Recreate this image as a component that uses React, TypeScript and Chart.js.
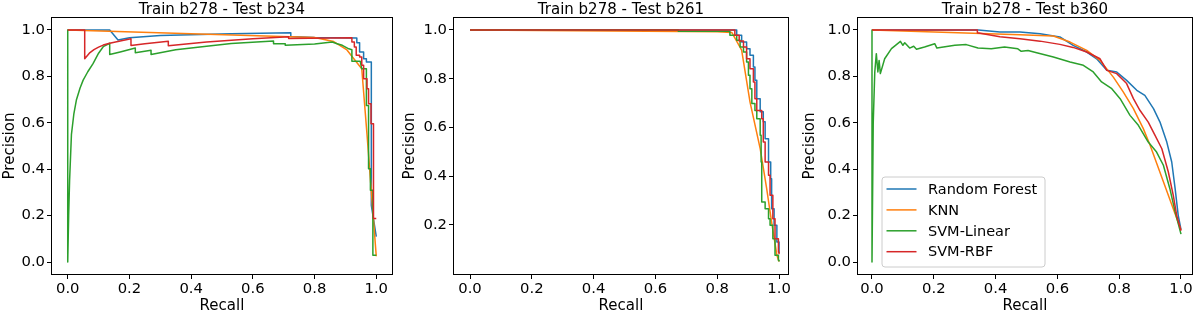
import React, { useEffect, useRef } from "react";
import { Chart, registerables } from "chart.js";

Chart.register(...registerables);

const FONT = "'DejaVu Sans', sans-serif";

const SERIES_NAMES = ["Random Forest", "KNN", "SVM-Linear", "SVM-RBF"];
const SERIES_COLORS = ["#1f77b4", "#ff7f0e", "#2ca02c", "#d62728"];
const TITLES = ["Train b278 - Test b234", "Train b278 - Test b261", "Train b278 - Test b360"];
const X_LABEL = "Recall";
const Y_LABEL = "Precision";
const X_TICKS = [0, 0.2, 0.4, 0.6, 0.8, 1.0];
const Y_TICKS_FULL = [0, 0.2, 0.4, 0.6, 0.8, 1.0];
const Y_TICKS_B261 = [0.2, 0.4, 0.6, 0.8, 1.0];

// ---------- Panel 1: Test b234 ----------
const b234RfRecall = [0, 0.136, 0.163, 0.2, 0.3, 0.53, 0.723, 0.723, 0.8, 0.937, 0.937, 0.946, 0.946, 0.959, 0.959, 0.968, 0.968, 0.984, 0.984, 1.0];
const b234RfPrecision = [1.0, 1.0, 0.957, 0.967, 0.976, 0.984, 0.988, 0.972, 0.968, 0.965, 0.945, 0.945, 0.905, 0.905, 0.876, 0.876, 0.862, 0.862, 0.244, 0.109];
const b234KnnRecall = [0, 0.8, 0.862, 0.905, 0.926, 0.953, 0.97, 1.0];
const b234KnnPrecision = [1.0, 0.968, 0.95, 0.914, 0.878, 0.833, 0.55, 0.025];
const b234LinRecall = [0, 0, 0.003, 0.006, 0.012, 0.02, 0.028, 0.04, 0.05, 0.065, 0.082, 0.1, 0.115, 0.136, 0.136, 0.17, 0.219, 0.219, 0.27, 0.27, 0.35, 0.45, 0.53, 0.667, 0.667, 0.705, 0.705, 0.8, 0.857, 0.873, 0.89, 0.911, 0.921, 0.921, 0.948, 0.953, 0.968, 0.968, 0.975, 0.975, 0.981, 0.981, 0.989, 0.989, 1.0];
const b234LinPrecision = [1.0, 0, 0.2, 0.35, 0.55, 0.64, 0.698, 0.75, 0.784, 0.82, 0.855, 0.9, 0.928, 0.943, 0.894, 0.905, 0.922, 0.902, 0.913, 0.894, 0.915, 0.93, 0.942, 0.953, 0.941, 0.941, 0.934, 0.94, 0.948, 0.941, 0.934, 0.919, 0.915, 0.865, 0.865, 0.833, 0.833, 0.675, 0.675, 0.402, 0.402, 0.309, 0.309, 0.029, 0.029];
const b234RbfRecall = [0, 0.055, 0.055, 0.07, 0.085, 0.1, 0.115, 0.136, 0.17, 0.205, 0.205, 0.25, 0.326, 0.326, 0.45, 0.6, 0.716, 0.716, 0.921, 0.921, 0.929, 0.929, 0.935, 0.935, 0.946, 0.946, 0.953, 0.953, 0.959, 0.959, 0.97, 0.97, 0.975, 0.975, 0.983, 0.983, 0.991, 0.991, 1.0];
const b234RbfPrecision = [1.0, 1.0, 0.876, 0.9, 0.915, 0.926, 0.935, 0.943, 0.953, 0.962, 0.933, 0.941, 0.952, 0.932, 0.948, 0.962, 0.971, 0.963, 0.967, 0.948, 0.948, 0.927, 0.927, 0.891, 0.891, 0.884, 0.884, 0.848, 0.848, 0.79, 0.79, 0.747, 0.747, 0.682, 0.682, 0.596, 0.596, 0.187, 0.187];

// ---------- Panel 2: Test b261 ----------
const b261RfRecall = [0, 0.847, 0.863, 0.879, 0.895, 0.906, 0.917, 0.922, 0.928, 0.939, 0.949, 0.955, 0.966, 0.973, 0.976, 0.984, 0.993, 1.0];
const b261RfPrecision = [1.0, 1.0, 0.978, 0.951, 0.923, 0.896, 0.848, 0.794, 0.718, 0.664, 0.623, 0.554, 0.458, 0.39, 0.267, 0.199, 0.13, 0.085];
const b261KnnRecall = [0, 0.8, 0.847, 0.879, 0.906, 0.939, 0.96, 0.976, 0.993, 1.0];
const b261KnnPrecision = [1.0, 0.993, 0.99, 0.917, 0.705, 0.513, 0.349, 0.212, 0.076, 0.05];
const b261LinRecall = [0, 0.674, 0.809, 0.841, 0.863, 0.874, 0.885, 0.895, 0.901, 0.906, 0.912, 0.922, 0.928, 0.939, 0.942, 0.944, 0.955, 0.966, 0.971, 0.98, 0.987, 0.998, 1.0];
const b261LinPrecision = [1.0, 0.995, 0.995, 0.978, 0.958, 0.93, 0.91, 0.869, 0.814, 0.759, 0.698, 0.67, 0.636, 0.568, 0.458, 0.294, 0.267, 0.226, 0.199, 0.144, 0.076, 0.055, 0.05];
const b261RbfRecall = [0, 0.836, 0.857, 0.871, 0.885, 0.895, 0.906, 0.917, 0.922, 0.928, 0.944, 0.949, 0.955, 0.966, 0.971, 0.98, 0.987, 0.998, 1.0];
const b261RbfPrecision = [1.0, 1.0, 0.978, 0.955, 0.93, 0.882, 0.841, 0.787, 0.718, 0.67, 0.636, 0.54, 0.458, 0.404, 0.322, 0.226, 0.144, 0.089, 0.08];

// ---------- Panel 3: Test b360 ----------
const b360RfRecall = [0, 0.344, 0.414, 0.479, 0.544, 0.608, 0.651, 0.695, 0.727, 0.76, 0.792, 0.824, 0.857, 0.883, 0.911, 0.932, 0.954, 0.97, 0.981, 0.991, 1.0];
const b360RfPrecision = [1.0, 1.0, 0.991, 0.991, 0.984, 0.97, 0.934, 0.905, 0.876, 0.826, 0.819, 0.783, 0.74, 0.718, 0.661, 0.603, 0.517, 0.431, 0.316, 0.201, 0.14];
const b360KnnRecall = [0, 0.479, 0.587, 0.641, 0.695, 0.738, 0.781, 0.813, 0.846, 0.878, 0.9, 1.0];
const b360KnnPrecision = [1.0, 0.98, 0.974, 0.948, 0.912, 0.869, 0.797, 0.733, 0.661, 0.575, 0.503, 0.138];
const b360LinRecall = [0, 0, 0.004, 0.009, 0.014, 0.019, 0.023, 0.027, 0.041, 0.063, 0.092, 0.1, 0.106, 0.122, 0.135, 0.144, 0.17, 0.203, 0.21, 0.268, 0.305, 0.343, 0.386, 0.429, 0.472, 0.483, 0.505, 0.533, 0.587, 0.641, 0.684, 0.716, 0.743, 0.776, 0.803, 0.835, 0.862, 0.894, 0.921, 0.943, 0.964, 0.981, 1.0];
const b360LinPrecision = [1.0, 0, 0.6, 0.819, 0.898, 0.819, 0.869, 0.812, 0.876, 0.92, 0.951, 0.934, 0.945, 0.922, 0.93, 0.917, 0.927, 0.941, 0.922, 0.934, 0.937, 0.922, 0.919, 0.927, 0.919, 0.908, 0.912, 0.902, 0.884, 0.862, 0.848, 0.819, 0.776, 0.747, 0.704, 0.632, 0.589, 0.517, 0.474, 0.417, 0.316, 0.216, 0.12];
const b360RbfRecall = [0, 0.341, 0.341, 0.414, 0.479, 0.544, 0.608, 0.651, 0.695, 0.738, 0.76, 0.792, 0.824, 0.846, 0.867, 0.894, 0.916, 0.938, 0.959, 0.975, 0.986, 1.0];
const b360RbfPrecision = [1.0, 1.0, 0.988, 0.971, 0.962, 0.952, 0.938, 0.925, 0.905, 0.876, 0.826, 0.812, 0.769, 0.704, 0.654, 0.603, 0.546, 0.488, 0.388, 0.287, 0.201, 0.135];

type Series = { r: number[]; p: number[]; stepped?: boolean };
type PanelCfg = {
  title: string;
  series: Series[];
  xMin: number; xMax: number; yMin: number; yMax: number;
  yTicks: number[];
  areaLeft: number; areaRight: number;
  legend: boolean;
};

const PANELS: PanelCfg[] = [
  {
    title: TITLES[0],
    series: [
      { r: b234RfRecall, p: b234RfPrecision },
      { r: b234KnnRecall, p: b234KnnPrecision },
      { r: b234LinRecall, p: b234LinPrecision },
      { r: b234RbfRecall, p: b234RbfPrecision },
    ],
    xMin: -0.051, xMax: 1.051, yMin: -0.0517, yMax: 1.0517,
    yTicks: Y_TICKS_FULL, areaLeft: 52, areaRight: 392, legend: false,
  },
  {
    title: TITLES[1],
    series: [
      { r: b261RfRecall, p: b261RfPrecision, stepped: true },
      { r: b261KnnRecall, p: b261KnnPrecision },
      { r: b261LinRecall, p: b261LinPrecision, stepped: true },
      { r: b261RbfRecall, p: b261RbfPrecision, stepped: true },
    ],
    xMin: -0.0518, xMax: 1.029, yMin: -0.001, yMax: 1.049,
    yTicks: Y_TICKS_B261, areaLeft: 54, areaRight: 388, legend: false,
  },
  {
    title: TITLES[2],
    series: [
      { r: b360RfRecall, p: b360RfPrecision },
      { r: b360KnnRecall, p: b360KnnPrecision },
      { r: b360LinRecall, p: b360LinPrecision },
      { r: b360RbfRecall, p: b360RbfPrecision },
    ],
    xMin: -0.0453, xMax: 1.0356, yMin: -0.0517, yMax: 1.0517,
    yTicks: Y_TICKS_FULL, areaLeft: 58, areaRight: 392, legend: true,
  },
];

const CANVAS_W = 400;
const CANVAS_H = 314;

function PRPanel({ cfg, left }: { cfg: PanelCfg; left: number }) {
  const ref = useRef<HTMLCanvasElement>(null);
  useEffect(() => {
    const decor = {
      id: "decor",
      afterDraw(chart: any) {
        const { ctx, chartArea: a } = chart;
        ctx.save();
        ctx.strokeStyle = "#000";
        ctx.lineWidth = 1;
        ctx.strokeRect(a.left - 0.5, a.top - 0.5, a.right - a.left + 1, a.bottom - a.top + 1);
        ctx.fillStyle = "#000";
        ctx.font = `15px ${FONT}`;
        ctx.textAlign = "center";
        ctx.textBaseline = "alphabetic";
        ctx.fillText(cfg.title, (a.left + a.right) / 2, 13.5);
        if (cfg.legend) {
          const bx = a.left + 23.5;
          const bw = 163;
          const bh = 90;
          const by = a.bottom - 7.5 - bh;
          ctx.beginPath();
          ctx.roundRect(bx + 0.5, by + 0.5, bw, bh, 3);
          ctx.fillStyle = "rgba(255,255,255,0.8)";
          ctx.fill();
          ctx.strokeStyle = "#cccccc";
          ctx.lineWidth = 1;
          ctx.stroke();
          ctx.font = `14.5px ${FONT}`;
          ctx.textAlign = "left";
          ctx.textBaseline = "middle";
          SERIES_NAMES.forEach((name, i) => {
            const y = by + 12.5 + i * 20.9;
            ctx.strokeStyle = SERIES_COLORS[i];
            ctx.lineWidth = 1.5;
            ctx.beginPath();
            ctx.moveTo(bx + 5, y);
            ctx.lineTo(bx + 35, y);
            ctx.stroke();
            ctx.fillStyle = "#000";
            ctx.fillText(name, bx + 46.5, y + 1);
          });
        }
        ctx.restore();
      },
    };

    const tickFont = { family: FONT, size: 14.8 };
    const titleFont = { family: FONT, size: 15, lineHeight: 1 };

    const chart = new Chart(ref.current as HTMLCanvasElement, {
      type: "line",
      data: {
        datasets: cfg.series.map((s, i) => ({
          label: SERIES_NAMES[i],
          data: s.r.map((r, j) => ({ x: r, y: s.p[j] })),
          borderColor: SERIES_COLORS[i],
          backgroundColor: SERIES_COLORS[i],
          borderWidth: 1.5,
          pointRadius: 0,
          tension: 0,
          fill: false,
          stepped: s.stepped ? "before" : false,
          borderJoinStyle: "round",
          order: 3 - i,
        })),
      },
      options: {
        animation: false,
        responsive: false,
        events: [],
        layout: { padding: { left: 0, right: CANVAS_W - cfg.areaRight, top: 18, bottom: 0 } },
        plugins: {
          legend: { display: false },
          tooltip: { enabled: false },
          title: { display: false },
        },
        scales: {
          x: {
            type: "linear",
            min: cfg.xMin,
            max: cfg.xMax,
            afterBuildTicks: (s: any) => {
              s.ticks = X_TICKS.map((v) => ({ value: v }));
            },
            afterFit: (s: any) => {
              s.height = 40;
              s.paddingLeft = 0;
              s.paddingRight = 0;
            },
            ticks: {
              callback: (v: any) => Number(v).toFixed(1),
              font: tickFont,
              color: "#000",
              padding: 1,
              maxRotation: 0,
              autoSkip: false,
            },
            grid: { drawOnChartArea: false, tickLength: 5, color: "#000", lineWidth: 1 },
            border: { display: false },
            title: { display: true, text: X_LABEL, font: titleFont, color: "#000", padding: { top: 0, bottom: 0 } },
          },
          y: {
            type: "linear",
            min: cfg.yMin,
            max: cfg.yMax,
            afterBuildTicks: (s: any) => {
              s.ticks = cfg.yTicks.map((v) => ({ value: v }));
            },
            afterFit: (s: any) => {
              s.width = cfg.areaLeft;
              s.paddingTop = 0;
              s.paddingBottom = 0;
            },
            ticks: {
              callback: (v: any) => Number(v).toFixed(1),
              font: tickFont,
              color: "#000",
              padding: 2,
              autoSkip: false,
            },
            grid: { drawOnChartArea: false, tickLength: 5, color: "#000", lineWidth: 1 },
            border: { display: false },
            title: { display: true, text: Y_LABEL, font: titleFont, color: "#000", padding: { top: 3, bottom: 0 } },
          },
        },
      },
      plugins: [decor],
    } as any);
    return () => chart.destroy();
  }, [cfg]);

  return (
    <canvas
      ref={ref}
      width={CANVAS_W}
      height={CANVAS_H}
      style={{ position: "absolute", left, top: 0, width: CANVAS_W, height: CANVAS_H }}
    />
  );
}

export default function App() {
  return (
    <div style={{ position: "fixed", left: 0, top: 0, width: 1200, height: 314, background: "#fff", overflow: "hidden" }}>
      {PANELS.map((cfg, i) => (
        <PRPanel key={i} cfg={cfg} left={i * CANVAS_W} />
      ))}
    </div>
  );
}
